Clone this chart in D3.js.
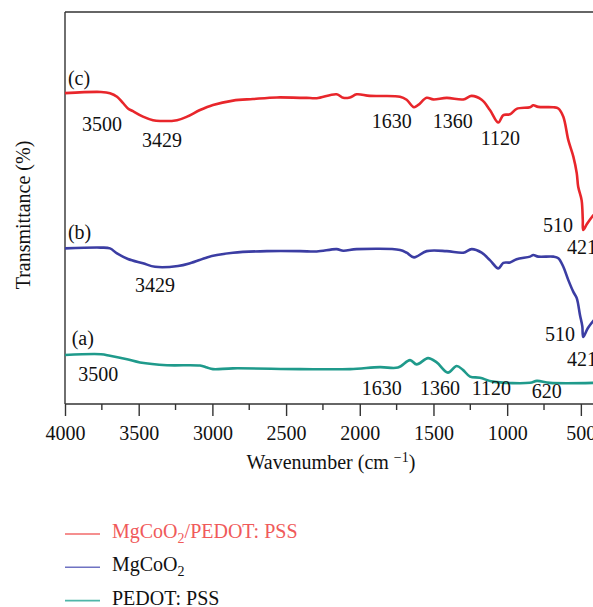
<!DOCTYPE html>
<html>
<head>
<meta charset="utf-8">
<script src="https://cdn.jsdelivr.net/npm/d3@7"></script>
<style>
  body { margin: 0; background: #fff; }
  svg { display: block; font-family: "Liberation Serif", "DejaVu Serif", serif; }
</style>
</head>
<body>
<svg id="root"></svg>
<script>
// [wavenumber (cm-1), transmittance (offset, a.u.)]
const seriesC = [
  [4000, 79.3], [3756, 79.6], [3695, 79.3], [3647, 78.4], [3607, 76.8], [3573, 75.4],
  [3539, 74.7], [3471, 73.3], [3403, 72.4], [3355, 72.2], [3240, 72.4], [3172, 73.3],
  [3084, 75.0], [2996, 76.3], [2860, 77.4], [2725, 77.8], [2562, 78.2], [2406, 78.1],
  [2360, 78.1], [2292, 78.0], [2157, 79.0], [2112, 78.1], [2067, 78.2], [2021, 79.0],
  [1931, 78.6], [1727, 78.4], [1682, 77.6], [1632, 75.7], [1603, 76.3], [1546, 78.1],
  [1501, 77.7], [1410, 78.1], [1298, 77.7], [1241, 78.6], [1173, 77.6], [1117, 75.0],
  [1060, 71.8], [1026, 73.7], [981, 73.9], [936, 75.3], [845, 75.7], [823, 76.2],
  [789, 75.8], [687, 75.7], [653, 75.4], [619, 73.3], [585, 67.3], [551, 63.1],
  [528, 58.9], [518, 55.4], [495, 52.0], [487, 47.0], [484, 44.4], [459, 45.9],
  [425, 47.7], [400, 48.7]
];

const seriesB = [
  [4000, 39.7], [3756, 39.9], [3695, 39.7], [3647, 38.4], [3573, 37.0], [3471, 35.9],
  [3389, 35.0], [3233, 35.2], [3152, 35.9], [3037, 37.4], [2969, 38.0], [2860, 38.6],
  [2630, 39.0], [2406, 39.0], [2292, 38.9], [2157, 39.5], [2112, 39.1], [2021, 39.5],
  [1727, 39.3], [1682, 38.6], [1632, 37.4], [1546, 39.0], [1410, 39.0], [1298, 38.6],
  [1241, 39.5], [1173, 38.6], [1117, 36.7], [1060, 34.6], [1026, 36.0], [981, 36.1],
  [936, 36.9], [845, 37.6], [823, 38.0], [789, 37.6], [687, 37.6], [653, 37.2],
  [619, 35.0], [585, 31.6], [551, 28.6], [528, 27.0], [506, 22.7], [490, 19.8],
  [484, 17.1], [452, 19.4], [400, 21.9]
];

const seriesA = [
  [4000, 12.5], [3756, 12.7], [3695, 12.3], [3579, 11.4], [3491, 10.6], [3308, 9.9],
  [3084, 9.8], [3037, 9.3], [2996, 8.9], [2860, 9.1], [2406, 8.9], [2066, 8.9],
  [1863, 9.4], [1741, 9.3], [1659, 11.2], [1614, 10.1], [1537, 11.7], [1478, 10.6],
  [1402, 8.0], [1343, 9.7], [1300, 8.7], [1252, 7.0], [1185, 6.7], [1096, 5.7],
  [845, 5.4], [798, 5.9], [710, 5.4], [400, 5.4]
];

// peak labels: [text, wavenumber, transmittance]
const peaksC = [["(c)", 3980, 81.4], ["3500", 3885, 69.6], ["3429", 3478, 65.6],
  ["1630", 1919, 70.4], ["1360", 1505, 70.4], ["1120", 1180, 66.1],
  ["510", 757, 43.9], ["421", 594, 38.3]];
const peaksB = [["(b)", 3980, 42.1], ["3429", 3525, 28.6], ["510", 744, 16.1], ["421", 594, 9.7]];
const peaksA = [["(a)", 3955, 15.1], ["3500", 3910, 5.9], ["1630", 1987, 2.3],
  ["1360", 1592, 2.3], ["1120", 1241, 2.3], ["620", 834, 1.5]];

const xTicks = [4000, 3500, 3000, 2500, 2000, 1500, 1000, 500];
const xMinorTicks = [3750, 3250, 2750, 2250, 1750, 1250, 750];

const legendNames = ["MgCoO|2|/PEDOT: PSS", "MgCoO|2|", "PEDOT: PSS"];

const width = 593, height = 607;
const margin = { top: 12, left: 65, bottom: 404 };

const svg = d3.select("#root").attr("width", width).attr("height", height);

const x = d3.scaleLinear().domain([4000, 400]).range([margin.left, 595.6]);
const y = d3.scaleLinear().domain([0, 100]).range([margin.bottom, margin.top]);

const colors = ["#e8262b", "#3b3da3", "#1f9a8b"];
const legendColors = ["#f26a6a", "#6f72c2", "#4fb6a9"];
const fontSize = 20;

// frame: left + top + bottom axes
svg.append("line")
  .attr("x1", margin.left).attr("x2", width)
  .attr("y1", margin.top).attr("y2", margin.top)
  .attr("stroke", "#333").attr("stroke-width", 1.4);
svg.append("line")
  .attr("x1", margin.left).attr("x2", margin.left)
  .attr("y1", margin.top).attr("y2", margin.bottom)
  .attr("stroke", "#333").attr("stroke-width", 1.4);

const xAxis = svg.append("g")
  .attr("transform", `translate(0,${margin.bottom})`)
  .call(d3.axisBottom(x).tickValues(xTicks).tickSize(12).tickSizeOuter(0).tickFormat(d3.format("d")));
xAxis.select(".domain").attr("stroke", "#333").attr("stroke-width", 1.4)
  .attr("d", `M${margin.left},0H${width}`);
xAxis.selectAll(".tick line").attr("stroke", "#333").attr("stroke-width", 1.4);
xAxis.selectAll(".tick text")
  .attr("y", 36).attr("dy", 0)
  .style("font-family", "Liberation Serif").style("font-size", fontSize + "px").attr("fill", "#111");

svg.append("g").selectAll("line")
  .data(xMinorTicks)
  .join("line")
  .attr("x1", (d) => x(d)).attr("x2", (d) => x(d))
  .attr("y1", margin.bottom).attr("y2", margin.bottom + 6)
  .attr("stroke", "#333").attr("stroke-width", 1.4);

// spectra
const line = d3.line().x((d) => x(d[0])).y((d) => y(d[1])).curve(d3.curveCatmullRom.alpha(0.5));
[seriesC, seriesB, seriesA].forEach((s, i) => {
  svg.append("path")
    .datum(s)
    .attr("fill", "none")
    .attr("stroke", colors[i])
    .attr("stroke-width", 2.6)
    .attr("stroke-linejoin", "round")
    .attr("d", line);
});

// peak annotations
svg.append("g").selectAll("text")
  .data([...peaksC, ...peaksB, ...peaksA])
  .join("text")
  .attr("x", (d) => x(d[1]))
  .attr("y", (d) => y(d[2]))
  .style("font-size", fontSize + "px")
  .attr("fill", "#111")
  .text((d) => d[0]);

// axis titles
const xTitle = svg.append("text")
  .attr("x", 331).attr("y", 469)
  .attr("text-anchor", "middle")
  .style("font-size", fontSize + "px")
  .attr("fill", "#111");
xTitle.append("tspan").text("Wavenumber (cm ");
xTitle.append("tspan").attr("dy", -7).style("font-size", "14px").text("\u22121");
xTitle.append("tspan").attr("dy", 7).text(")");

svg.append("text")
  .attr("transform", "translate(30,215) rotate(-90)")
  .attr("text-anchor", "middle")
  .style("font-size", fontSize + "px")
  .attr("fill", "#111")
  .text("Transmittance (%)");

// legend
const legend = svg.append("g").selectAll("g")
  .data(legendNames)
  .join("g")
  .attr("transform", (d, i) => `translate(65,${534 + i * 33.3})`);
legend.append("line")
  .attr("x1", 0).attr("x2", 35)
  .attr("stroke", (d, i) => legendColors[i]).attr("stroke-width", 1.6);
legend.append("text")
  .attr("x", 47).attr("y", 4)
  .style("font-size", fontSize + "px")
  .attr("fill", (d, i) => (i === 0 ? "#f05a5a" : "#111"))
  .each(function (d) {
    const parts = d.split("|");
    const t = d3.select(this);
    parts.forEach((p, k) => {
      if (!p) return;
      const span = t.append("tspan").text(p);
      if (k === 1) span.attr("dy", 5).style("font-size", "14px");
      if (k === 2) span.attr("dy", -5);
    });
  });
</script>
</body>
</html>
